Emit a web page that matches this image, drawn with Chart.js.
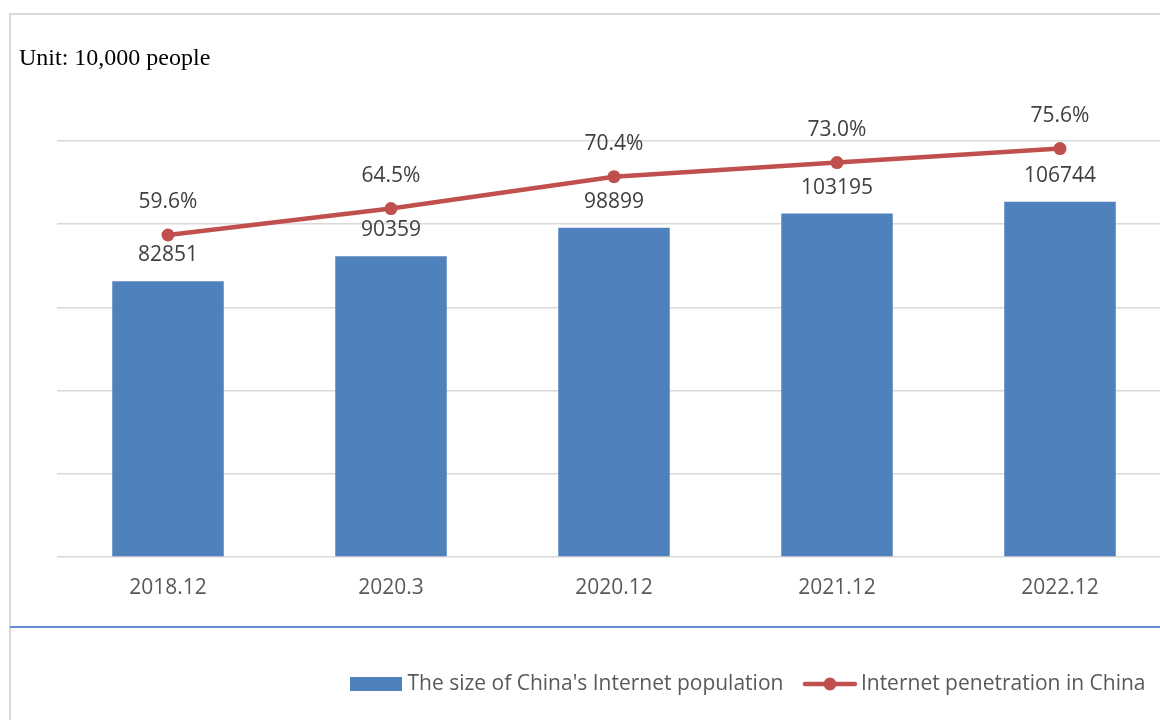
<!DOCTYPE html>
<html>
<head>
<meta charset="utf-8">
<title>China Internet users</title>
<script src="https://cdn.jsdelivr.net/npm/chart.js@4.4.1/dist/chart.umd.min.js"></script>
<style>
  html, body { margin: 0; padding: 0; background: #fff; overflow: hidden; }
  #frame { position: relative; width: 1160px; height: 720px; overflow: hidden; }
  #box { position: absolute; left: 9px; top: 13px; width: 1200px; height: 800px;
         border-left: 2px solid #d9d9d9; border-top: 2px solid #d9d9d9; }
  #wrap { position: absolute; left: 0; top: 0; width: 1200px; height: 720px; }
  #unit { position: absolute; left: 19px; top: 44px; line-height: 28px;
          font: 24px "Liberation Serif", "Times New Roman", serif; color: #000; }
  #rule { position: absolute; left: 10px; top: 626px; width: 1200px; height: 2px; background: #5f8fcf; }
</style>
</head>
<body>
<div id="frame">
  <div id="box"></div>
  <div id="wrap"><canvas id="chart"></canvas></div>
  <div id="unit">Unit: 10,000 people</div>
  <div id="rule"></div>
</div>
<script>
// datos
const categories = ['2018.12', '2020.3', '2020.12', '2021.12', '2022.12'];
const netizens = [82851, 90359, 98899, 103195, 106744];
const penetration = [59.6, 64.5, 70.4, 73.0, 75.6];
const seriesNames = ["The size of China's Internet population", 'Internet penetration in China'];

const BAR = '#4f81bd';
const LINE = '#c0504d';
const FONT = "'Open Sans', sans-serif";

Chart.defaults.font.family = FONT;
Chart.defaults.font.size = 21;
Chart.defaults.color = '#595959';

// muestras de la leyenda (rectangulo y linea con marcador)
function swatch(w, h, draw) {
    const c = document.createElement('canvas');
    c.width = w;
    c.height = h;
    draw(c.getContext('2d'));
    return c;
}
const barSwatch = swatch(52, 14, ctx => {
    ctx.fillStyle = BAR;
    ctx.fillRect(0, 0, 52, 14);
});
const lineSwatch = swatch(56, 14, ctx => {
    ctx.strokeStyle = LINE;
    ctx.lineWidth = 4.5;
    ctx.lineCap = 'round';
    ctx.beginPath();
    ctx.moveTo(3, 7);
    ctx.lineTo(53, 7);
    ctx.stroke();
    ctx.fillStyle = LINE;
    ctx.beginPath();
    ctx.arc(28, 7, 6.5, 0, Math.PI * 2);
    ctx.fill();
});

// etiquetas de valor encima de barras y puntos
const valueLabels = {
    id: 'valueLabels',
    afterDatasetsDraw(chart) {
        const ctx = chart.ctx;
        ctx.save();
        ctx.font = '21px ' + FONT;
        ctx.fillStyle = '#404040';
        ctx.textAlign = 'center';
        ctx.textBaseline = 'middle';
        chart.data.datasets.forEach((ds, i) => {
            const meta = chart.getDatasetMeta(i);
            meta.data.forEach((el, j) => {
                const v = ds.data[j];
                if (ds.type === 'line') {
                    ctx.fillText(v.toFixed(1) + '%', el.x, el.y - 33);
                } else {
                    ctx.fillText(String(v), el.x, el.y - 26);
                }
            });
        });
        ctx.restore();
    }
};

new Chart(document.getElementById('chart'), {
    data: {
        labels: categories,
        datasets: [
            {
                type: 'line',
                label: seriesNames[1],
                data: penetration,
                yAxisID: 'y1',
                borderColor: LINE,
                backgroundColor: LINE,
                borderWidth: 4.5,
                pointRadius: 6.5,
                pointBorderWidth: 0,
                pointBackgroundColor: LINE,
                tension: 0,
                order: 0
            },
            {
                type: 'bar',
                label: seriesNames[0],
                data: netizens,
                yAxisID: 'y',
                backgroundColor: BAR,
                barPercentage: 0.5,
                categoryPercentage: 1,
                order: 1
            }
        ]
    },
    options: {
        responsive: true,
        maintainAspectRatio: false,
        animation: false,
        events: [],
        layout: { padding: { left: 56.5, top: 141, right: 28.5, bottom: 15.5 } },
        plugins: {
            tooltip: { enabled: false },
            legend: {
                position: 'bottom',
                align: 'end',
                labels: {
                    usePointStyle: true,
                    pointStyleWidth: 41,
                    padding: 26,
                    color: '#595959',
                    font: { size: 21 },
                    generateLabels(chart) {
                        const items = Chart.defaults.plugins.legend.labels.generateLabels(chart);
                        items.forEach(it => {
                            it.pointStyle = chart.data.datasets[it.datasetIndex].type === 'line' ? lineSwatch : barSwatch;
                        });
                        // barras primero, luego la linea
                        return items.sort((a, b) => b.datasetIndex - a.datasetIndex);
                    }
                }
            }
        },
        scales: {
            x: {
                grid: { display: false, drawTicks: false },
                border: { display: false },
                ticks: { color: '#595959', font: { size: 21 }, padding: 18 },
                afterFit(scale) { scale.height = 90.5; }
            },
            y: {
                min: 0,
                max: 125000,
                ticks: { display: false, stepSize: 25000 },
                grid: { color: '#d9d9d9', lineWidth: 1.5, drawTicks: false },
                border: { display: false }
            },
            y1: {
                display: false,
                min: 0,
                max: 77
            }
        }
    },
    plugins: [valueLabels]
});
</script>
</body>
</html>
